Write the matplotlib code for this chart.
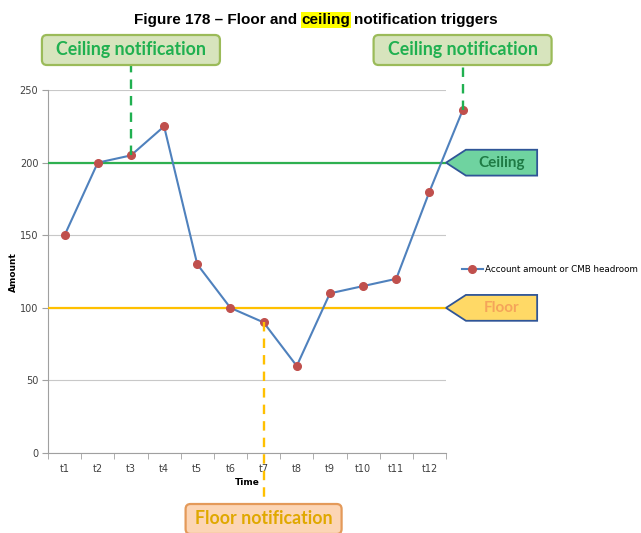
import matplotlib.pyplot as plt
import numpy as np
from matplotlib.patches import Polygon, FancyBboxPatch
from matplotlib.lines import Line2D
from matplotlib.transforms import blended_transform_factory, IdentityTransform

# data (13th point sits past the last category)
periods = ["t1", "t2", "t3", "t4", "t5", "t6", "t7", "t8", "t9", "t10", "t11", "t12"]
amounts = [150, 200, 205, 225, 130, 100, 90, 60, 110, 115, 120, 180, 236]
ceiling = 200
floor = 100
yticks = [0, 50, 100, 150, 200, 250]
series_name = "Account amount or CMB headroom"

W, H = 641, 533
fig = plt.figure(figsize=(W / 100, H / 100), dpi=100)
ax = fig.add_axes([0.0749, 0.150, 0.6209, 0.681])

x = np.arange(len(amounts))
ax.plot(x, amounts, color="#4f81bd", lw=1.5, marker="o", ms=5.5,
        mfc="#c0504d", mec="#c0504d", clip_on=False, zorder=5, label=series_name)

ax.axhline(ceiling, color="#2eb050", lw=1.6, zorder=3)
ax.axhline(floor, color="#ffc000", lw=1.6, zorder=3)

ax.set_xlim(-0.5, len(periods) - 0.5)
ax.set_ylim(0, 250)
ax.set_yticks(yticks)
ax.set_xticks(np.arange(len(periods)))
ax.set_xticklabels(periods)
ax.set_xticks(np.arange(len(periods) + 1) - 0.5, minor=True)
ax.tick_params(axis="x", which="major", length=0, pad=8, labelsize=7, labelcolor="#404040")
ax.tick_params(axis="x", which="minor", length=4, color="#a0a0a0")
ax.tick_params(axis="y", length=4, color="#a0a0a0", labelsize=7, labelcolor="#404040", pad=3)
ax.grid(axis="y", color="#c8c8c8", lw=0.8)
ax.set_axisbelow(True)
for s in ["top", "right"]:
    ax.spines[s].set_visible(False)
for s in ["left", "bottom"]:
    ax.spines[s].set_color("#a0a0a0")
ax.set_xlabel("Time", fontsize=6.5, fontweight="bold", labelpad=3)
ax.set_ylabel("Amount", fontsize=6.5, fontweight="bold")
ax.yaxis.set_label_coords(-0.075, 0.5)

ax.legend(loc="center left", bbox_to_anchor=(1.02, 0.505), frameon=False,
          fontsize=6.3, handlelength=2.4, handletextpad=0.2)

# ceiling / floor pentagon tags at the right edge
tr = blended_transform_factory(ax.transAxes, ax.transData)
for level, fill, tcol, label in [(ceiling, "#6fd3a0", "#1e7b45", "Ceiling"),
                                 (floor, "#ffd966", "#f5a45a", "Floor")]:
    h = 8.9
    pts = [(1.0, level), (1.05, level + h), (1.229, level + h),
           (1.229, level - h), (1.05, level - h)]
    ax.add_patch(Polygon(pts, closed=True, transform=tr, clip_on=False,
                         facecolor=fill, edgecolor="#2f5597", lw=1.3, zorder=6))
    ax.text(1.14, level, label, transform=tr, ha="center", va="center",
            fontsize=11, fontweight="bold", color=tcol, family="Lato", zorder=7)


# notification call-outs (box centred above/below the triggering point)
def callout(i, cy, w, text, fill, edge, tcol, lcol):
    h = 30
    px, py = ax.transData.transform((i, amounts[i]))
    fy = H - cy
    box = FancyBboxPatch((px - w / 2, fy - h / 2), w, h,
                         boxstyle="round,pad=0,rounding_size=5",
                         fc=fill, ec=edge, lw=1.6, transform=IdentityTransform(), zorder=8)
    fig.add_artist(box)
    edge_y = fy - h / 2 if fy > py else fy + h / 2
    fig.add_artist(Line2D([px, px], [py, edge_y], color=lcol, lw=1.7,
                          linestyle=(0, (4, 3)), transform=IdentityTransform(), zorder=4))
    fig.text(px / W, fy / H, text, ha="center", va="center", fontsize=12.8,
             fontweight="bold", color=tcol, family="Lato", zorder=9)


callout(2, 50, 178, "Ceiling notification", "#d7e4bd", "#9bbb59", "#20b050", "#20b050")
callout(12, 50, 178, "Ceiling notification", "#d7e4bd", "#9bbb59", "#20b050", "#20b050")
callout(6, 519, 156, "Floor notification", "#fcd5b5", "#e49a5a", "#e0a800", "#ffc000")

# title with highlighted word
t1 = fig.text(134 / W, 1 - 24 / H, "Figure 178 \u2013 Floor and", fontsize=11,
              fontweight="bold", family="Liberation Sans", ha="left", va="baseline")
t2 = ax.annotate("ceiling", xy=(1, 0), xycoords=t1, xytext=(3, 0),
                 textcoords="offset points", fontsize=11, fontweight="bold",
                 family="Liberation Sans", ha="left", va="bottom",
                 bbox=dict(boxstyle="square,pad=0.05", fc="#ffff00", ec="none"))
ax.annotate("notification triggers", xy=(1, 0), xycoords=t2, xytext=(3, 0),
            textcoords="offset points", fontsize=11, fontweight="bold",
            family="Liberation Sans", ha="left", va="bottom")

fig.savefig("out.png", dpi=100)
